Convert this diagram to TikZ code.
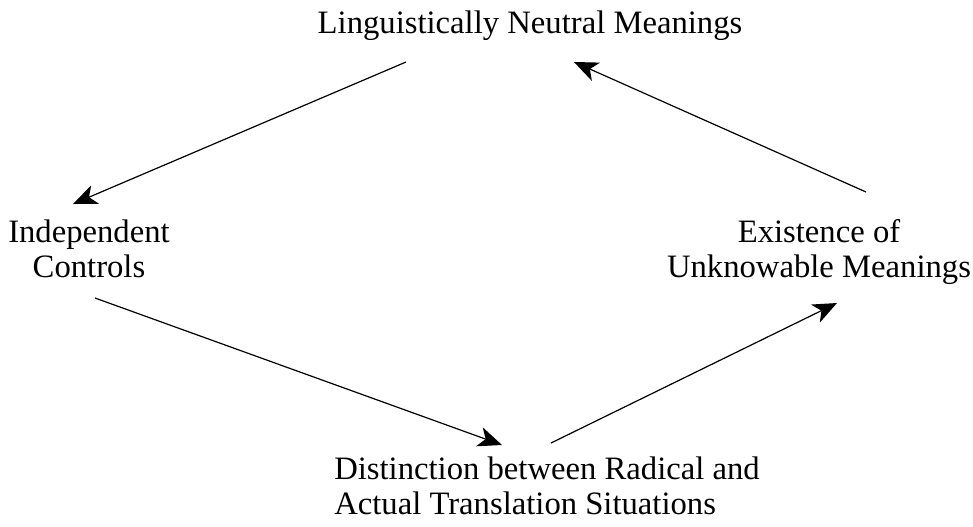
\documentclass[tikz,border=0pt]{standalone}
\usepackage{fontspec}
\setmainfont{Liberation Serif}
\usetikzlibrary{arrows.meta}
\begin{document}
\begin{tikzpicture}[x=0.75pt,y=-0.75pt,
  lbl/.style={inner sep=0pt,font=\fontsize{24.5}{26.25}\selectfont},
  arr/.style={line width=0.9pt,-{Stealth[length=18pt,width=15pt,inset=5pt]}}]
\useasboundingbox (0,0) rectangle (973,526);
\node[lbl,anchor=base] (top) at (530,33) {Linguistically Neutral Meanings};
\node[lbl,anchor=base] (ind) at (89,242) {\begin{tabular}[t]{@{}c@{}}Independent\\Controls\end{tabular}};
\node[lbl,anchor=base] (ex) at (819,242) {\begin{tabular}[t]{@{}c@{}}Existence of\\Unknowable Meanings\end{tabular}};
\node[lbl,anchor=base west] (dist) at (334,479) {\begin{tabular}[t]{@{}l@{}}Distinction between Radical and\\Actual Translation Situations\end{tabular}};
\coordinate (a1s) at (406,62);
\coordinate (a1e) at (73,204);
\coordinate (a2s) at (95,298);
\coordinate (a2e) at (502,445);
\coordinate (a3s) at (551,443);
\coordinate (a3e) at (837,303);
\coordinate (a4s) at (866,192);
\coordinate (a4e) at (574,62);
\draw[arr] (a1s) -- (a1e);
\draw[arr] (a2s) -- (a2e);
\draw[arr] (a3s) -- (a3e);
\draw[arr] (a4s) -- (a4e);
\end{tikzpicture}
\end{document}
